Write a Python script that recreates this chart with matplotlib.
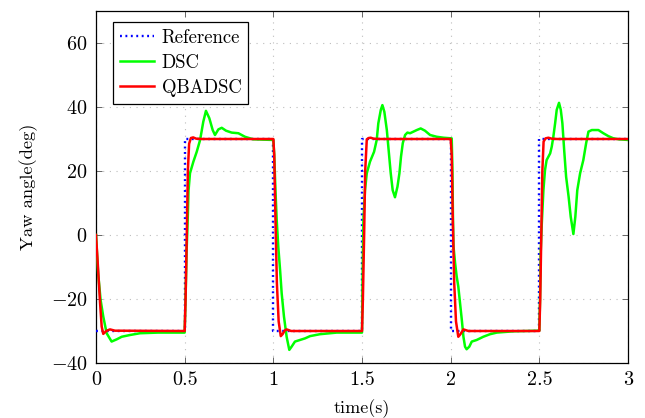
import matplotlib
matplotlib.use("Agg")
import matplotlib.pyplot as plt

plt.rcParams["font.family"] = "serif"
plt.rcParams["font.serif"] = ["cmr10"]
plt.rcParams["mathtext.fontset"] = "cm"
plt.rcParams["axes.formatter.use_mathtext"] = True

# Reference yaw angle: square wave of +/-30 deg, switching every 0.5 s
t_ref = [0.0, 0.5, 0.5, 1.0, 1.0, 1.5, 1.5, 2.0, 2.0, 2.5, 2.5, 3.0]
y_ref = [-30, -30, 30, 30, -30, -30, 30, 30, -30, -30, 30, 30]

# DSC response
t_dsc = [0.0, 0.012, 0.026, 0.041, 0.06, 0.088, 0.117, 0.145, 0.192, 0.248, 0.35, 0.5,
         0.505, 0.511, 0.517, 0.522, 0.53, 0.549, 0.568, 0.587, 0.605, 0.62, 0.639, 0.658,
         0.671, 0.69, 0.709, 0.733, 0.765, 0.803, 0.84, 0.887, 0.94, 1.0,
         1.005, 1.012, 1.019, 1.028, 1.038, 1.047, 1.06, 1.075, 1.09, 1.103, 1.122, 1.15,
         1.179, 1.207, 1.263, 1.357, 1.5,
         1.503, 1.508, 1.517, 1.527, 1.545, 1.568, 1.583, 1.592, 1.606, 1.615, 1.626, 1.64,
         1.652, 1.662, 1.673, 1.686, 1.70, 1.711, 1.72, 1.73, 1.743, 1.756, 1.771, 1.79,
         1.809, 1.831, 1.855, 1.884, 1.921, 1.96, 2.006,
         2.01, 2.013, 2.016, 2.025, 2.034, 2.043, 2.053, 2.063, 2.072, 2.081, 2.09, 2.105,
         2.119, 2.147, 2.184, 2.222, 2.26, 2.354, 2.5,
         2.504, 2.508, 2.514, 2.523, 2.532, 2.541, 2.561, 2.57, 2.579, 2.589, 2.598, 2.611,
         2.621, 2.63, 2.64, 2.651, 2.665, 2.677, 2.692, 2.703, 2.714, 2.73, 2.748, 2.764,
         2.777, 2.796, 2.833, 2.861, 2.889, 2.918, 2.95, 3.0]
y_dsc = [0.0, -12, -20.3, -25.5, -30.7, -33.3, -32.6, -31.8, -31.25, -30.7, -30.5, -30.5,
         -20, -5, 4.7, 14, 19.3, 22.9, 26, 29.7, 35.4, 38.8, 36.5, 32.8,
         31.25, 33, 33.5, 32.6, 32, 31.8, 30.7, 29.9, 29.8, 29.7,
         25, 14, 4.7, -3.7, -10.9, -18.2, -25.5, -31.8, -35.9, -34.9, -33.3, -32.8,
         -32.3, -31.6, -31, -30.5, -30.5,
         -15, 4.7, 14, 19.3, 22.9, 26, 29.7, 34.9, 39.1, 40.6, 38.5, 32.8,
         25.5, 19.3, 14, 11.8, 15.1, 19.3, 24.5, 28.7, 31.25, 32, 31.8, 32.3,
         32.8, 33.3, 32.6, 31.25, 30.7, 30.4, 30.2,
         20, 5, -3.6, -8.8, -13, -16.1, -21.3, -26.6, -31.8, -34.9, -35.7, -34.9,
         -33.3, -32.8, -31.8, -31, -30.5, -30.1, -29.9,
         -20, -5, 3.7, 14, 20.3, 23.4, 25.5, 27.6, 30.7, 34.9, 39.1, 41.3,
         39.1, 34.9, 26.6, 18.2, 12, 5.7, 0.3, 5.7, 14, 19.3, 23.4, 28.7,
         32.3, 32.8, 32.8, 31.8, 30.9, 30.2, 29.9, 29.7]

# QBADSC response
t_qb = [0.0, 0.01, 0.023, 0.032, 0.041, 0.06, 0.079, 0.107, 0.5,
        0.505, 0.512, 0.518, 0.525, 0.535, 0.548, 0.565, 0.6, 1.0,
        1.005, 1.012, 1.02, 1.03, 1.042, 1.052, 1.065, 1.075, 1.1, 1.5,
        1.505, 1.512, 1.518, 1.527, 1.537, 1.549, 1.565, 1.6, 2.0,
        2.006, 2.012, 2.02, 2.03, 2.043, 2.055, 2.072, 2.1, 2.5,
        2.505, 2.511, 2.517, 2.524, 2.535, 2.551, 2.57, 2.6, 3.0]
y_qb = [0.0, -9, -21.3, -28.6, -30.9, -29.9, -29.5, -29.9, -30,
        -20, 0, 20, 28.5, 30.3, 30.5, 30.1, 30, 30,
        25, 5, -15, -27, -31.6, -31.0, -29.8, -29.5, -30, -30,
        -20, 0, 20, 29.9, 30.3, 30.4, 30.1, 30, 30,
        25, 5, -15, -27, -31.8, -31.0, -29.5, -30, -30,
        -20, 0, 20, 29.2, 30.2, 30.4, 30.1, 30, 30]

x_ticks = [0, 0.5, 1, 1.5, 2, 2.5, 3]
x_ticklabels = ["0", "0.5", "1", "1.5", "2", "2.5", "3"]
y_ticks = [-40, -20, 0, 20, 40, 60]

fig = plt.figure(figsize=(6.45, 4.18), dpi=100)
ax = fig.add_axes([96 / 645, 55 / 418, 532 / 645, 352 / 418])

ax.plot(t_ref, y_ref, color="#0000ff", lw=1.7, ls=(0, (0.8, 1.5)),
        label="Reference", zorder=3)
ax.plot(t_dsc, y_dsc, color="#00ff00", lw=1.8, label="DSC", zorder=4)
ax.plot(t_qb, y_qb, color="#ff0000", lw=1.8, label="QBADSC", zorder=5)

ax.set_xlim(0, 3)
ax.set_ylim(-40, 70)
ax.set_xticks(x_ticks)
ax.set_xticklabels(x_ticklabels)
ax.set_yticks(y_ticks)

ax.grid(True, color="#bdbdbd", ls=(0, (1, 5)), lw=0.8)
ax.set_axisbelow(True)
ax.tick_params(direction="in", top=True, right=True, length=4, width=0.7,
               color="#666666", labelsize=14.5, pad=6)
for s in ax.spines.values():
    s.set_linewidth(0.9)
    s.set_color("black")

ax.set_xlabel("time(s)", fontsize=13, labelpad=7)
ax.set_ylabel("Yaw angle(deg)", fontsize=13.3, labelpad=9)

leg = ax.legend(loc="upper left", bbox_to_anchor=(17 / 532, 1 - 11 / 352),
                borderaxespad=0, fontsize=13.5, frameon=True, fancybox=False,
                edgecolor="black", framealpha=1, handlelength=1.85,
                handletextpad=0.38, labelspacing=0.38, borderpad=0.36)
leg.get_frame().set_linewidth(0.9)
leg.set_zorder(10)

fig.savefig("out.png", dpi=100)
